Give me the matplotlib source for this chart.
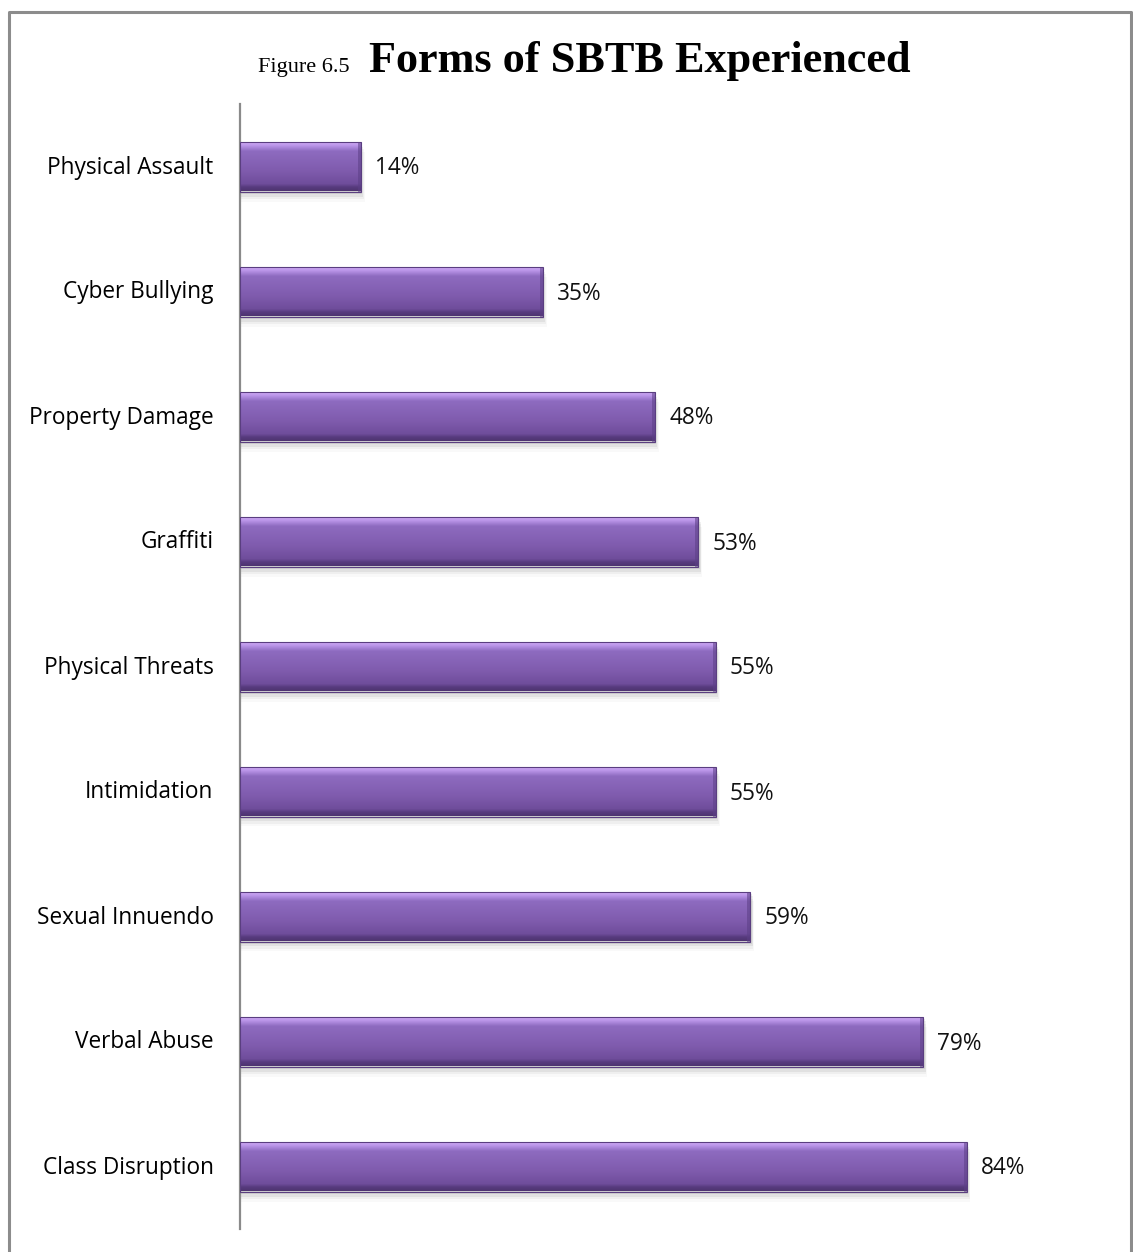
import numpy as np
import matplotlib
matplotlib.use("Agg")
import matplotlib.pyplot as plt
import matplotlib.transforms as mtransforms
from matplotlib.colors import LinearSegmentedColormap
from matplotlib.patches import Rectangle

# Forms of SBTB experienced, top to bottom as drawn
categories = ["Physical Assault", "Cyber Bullying", "Property Damage", "Graffiti",
              "Physical Threats", "Intimidation", "Sexual Innuendo",
              "Verbal Abuse", "Class Disruption"]
percent = [14, 35, 48, 53, 55, 55, 59, 79, 84]

W, H = 1133, 1252
fig = plt.figure(figsize=(W / 100, H / 100), dpi=100)

# outer frame
frame = fig.add_axes([0, 0, 1, 1])
frame.set_xlim(0, W)
frame.set_ylim(H, 0)
frame.axis("off")
frame.plot([9, 9, 1131, 1131], [H + 5, 12, 12, H + 5], color="#8c8c8c", lw=2.2)

# plot area: x 240..1105 px for 0..100 %, y 104..1229 px
ax = fig.add_axes([240 / W, 1 - 1229 / H, 865 / W, 1125 / H])
ax.set_xlim(0, 100)
ax.set_ylim(len(categories) - 0.5, -0.5)
for s in ["top", "right", "bottom"]:
    ax.spines[s].set_visible(False)
ax.spines["left"].set_color("#8a8a8a")
ax.spines["left"].set_linewidth(1.6)
ax.set_xticks([])
ax.set_yticks(range(len(categories)))
ax.set_yticklabels(categories, fontfamily="Open Sans", fontsize=16.3)
ax.tick_params(axis="y", length=0, pad=19)
# lift the category labels a touch
lift = mtransforms.ScaledTranslation(0, 2 / 100, fig.dpi_scale_trans)
for lab in ax.get_yticklabels():
    lab.set_transform(lab.get_transform() + lift)

bar_h = 0.4
grad = LinearSegmentedColormap.from_list(
    "bevel", [(0.0, "#d6b2fa"), (0.09, "#b994e8"), (0.2, "#8e6bc0"),
              (0.6, "#7f5bad"), (0.86, "#6f4d9b"), (0.92, "#583b7f"),
              (1.0, "#4e3470")])
gimg = np.linspace(0, 1, 200).reshape(-1, 1)

bars = ax.barh(range(len(categories)), percent, height=bar_h,
               color="none", edgecolor="none", zorder=3)
for i, (b, v) in enumerate(zip(bars, percent)):
    y0 = i - bar_h / 2
    # soft drop shadow under each bar
    for k, a in enumerate([0.10, 0.07, 0.05, 0.03]):
        ax.add_patch(Rectangle((0, y0 + 0.02 + k * 0.02), v + 0.15 + k * 0.1, bar_h,
                               facecolor="#404040", alpha=a, lw=0, zorder=2))
    im = ax.imshow(gimg, cmap=grad, aspect="auto",
                   extent=(0, v, i + bar_h / 2, y0), zorder=3)
    im.set_clip_path(b)
    # bevelled right edge
    ax.add_patch(Rectangle((v - 0.35, y0), 0.35, bar_h, facecolor="#5c3f86",
                           alpha=0.55, lw=0, zorder=4))
    ax.add_patch(Rectangle((0, y0), v, bar_h, facecolor="none",
                           edgecolor="#5a3e80", lw=0.8, zorder=5))
    ax.text(v + 1.6, i + 0.016, f"{v}%", va="center", ha="left",
            fontfamily="Open Sans", fontsize=16.3, color="#111111")

fig.text(258 / W, 1 - 72 / H, "Figure 6.5", fontfamily="Liberation Serif",
         fontsize=16, ha="left", va="baseline")
fig.text(369 / W, 1 - 72 / H, "Forms of SBTB Experienced",
         fontfamily="Liberation Serif", fontweight="bold", fontsize=31.9,
         ha="left", va="baseline")

fig.savefig("out.png", dpi=100)
